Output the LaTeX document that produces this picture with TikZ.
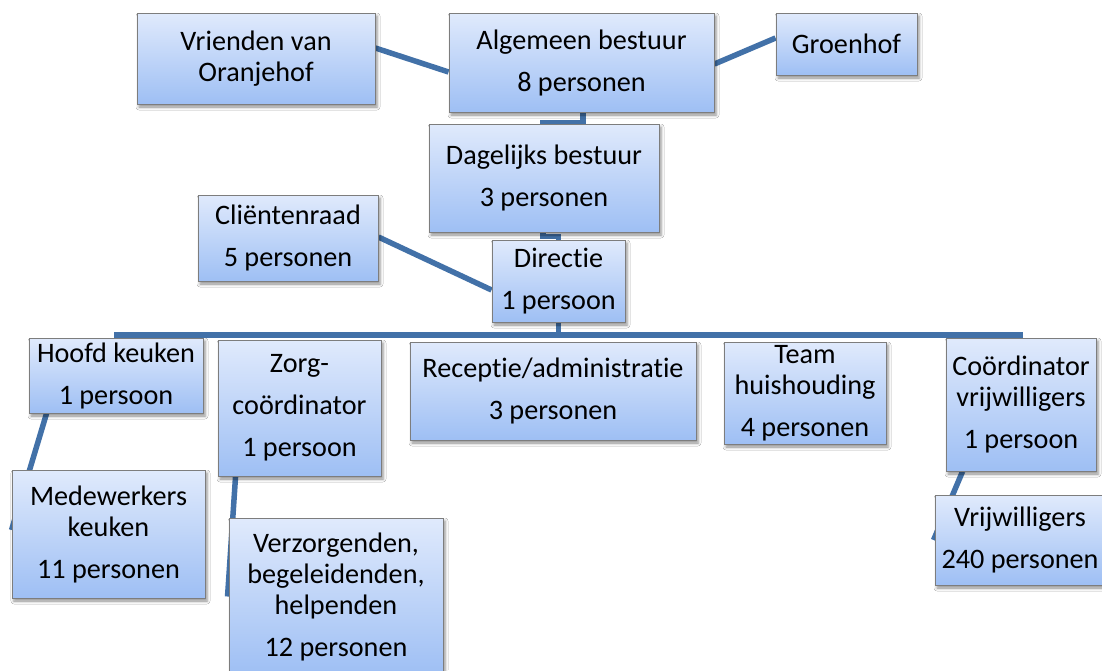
\documentclass[tikz,border=0pt]{standalone}
\usepackage{fontspec}
\setmainfont[Ligatures={NoCommon,NoContextual,NoRare}]{Carlito}
\usetikzlibrary{shadows.blur,backgrounds,calc}
\definecolor{lineblue}{RGB}{66,113,168}
\definecolor{boxtop}{RGB}{224,234,252}
\definecolor{boxbot}{RGB}{158,191,244}
\definecolor{boxborder}{RGB}{125,125,125}
\tikzset{
  orgbox/.style={draw=boxborder, line width=0.9pt, top color=boxtop, bottom color=boxbot,
    inner sep=0pt, align=center, font=\fontsize{28.2}{31}\selectfont,
    blur shadow={shadow xshift=2pt, shadow yshift=-3pt, shadow blur radius=3pt, shadow opacity=45}},
  conn/.style={draw=lineblue, line width=5.5pt},
}
\newcommand{\pgap}{\\[11pt]}
\begin{document}
\begin{tikzpicture}[x=1pt,y=1pt]
\useasboundingbox (0,0) rectangle (1102,-670);
% boxes
\node[orgbox, minimum width=238pt, minimum height=91pt] (vri) at (256,-58.5) {Vrienden van\\Oranjehof};
\node[orgbox, minimum width=265pt, minimum height=99pt] (alg) at (581.5,-62.5) {Algemeen bestuur\pgap 8 personen};
\node[orgbox, minimum width=141pt, minimum height=62pt] (gro) at (846.5,-44) {Groenhof};
\node[orgbox, minimum width=230pt, minimum height=108pt] (dag) at (544,-178) {Dagelijks bestuur\pgap 3 personen};
\node[orgbox, minimum width=180pt, minimum height=86pt] (cli) at (288,-238) {Cliëntenraad\pgap 5 personen};
\node[orgbox, minimum width=133pt, minimum height=82pt] (dir) at (558.5,-281) {Direct\kern0pt ie\pgap 1 persoon};
\node[orgbox, minimum width=174pt, minimum height=75pt] (hoo) at (116,-375.5) {Hoofd keuken\pgap 1 persoon};
\node[orgbox, minimum width=163pt, minimum height=136pt] (zor) at (299.5,-408) {Zorg-\pgap coördinator\pgap 1 persoon};
\node[orgbox, minimum width=286pt, minimum height=98pt] (rec) at (553,-391) {Recept\kern0pt ie/administrat\kern0pt ie\pgap 3 personen};
\node[orgbox, minimum width=162pt, minimum height=102pt] (tea) at (805,-393) {Team\\huishouding\pgap 4 personen};
\node[orgbox, minimum width=150pt, minimum height=133pt] (coo) at (1021,-404.5) {Coördinator\\vrijwilligers\pgap 1 persoon};
\node[orgbox, minimum width=193pt, minimum height=128pt] (med) at (108.5,-534) {Medewerkers\\keuken\pgap 11 personen};
\node[orgbox, minimum width=214pt, minimum height=157pt] (ver) at (336,-596.5) {Verzorgenden,\\begeleidenden,\\helpenden\pgap 12 personen};
\node[orgbox, minimum width=170pt, minimum height=90pt] (vrij) at (1020,-540) {Vrijwilligers\pgap 240 personen};
\coordinate (busL) at (114,-335);
\coordinate (busR) at (1023,-335);
% connectors
\begin{pgfonlayer}{background}
\fill[white] (0,0) rectangle (1102,-670);
\draw[conn] ([yshift=10.5pt]vri.east) -- ([yshift=-9.5pt]alg.west);
\draw[conn] ([yshift=-1.5pt]alg.east) -- ([yshift=6pt]gro.west);
\draw[conn] ([xshift=1.5pt]alg.south) -- ++(0,-10) -| ([xshift=-1pt]dag.north);
\draw[conn] ([xshift=-1pt]dag.south) -- ++(0,-4) -| (dir.north);
\draw[conn] ([yshift=1pt]cli.east) -- ([yshift=-9pt]dir.west);
\draw[conn] (dir.south) -- (dir.south |- busL);
\draw[conn] (busL) -- (busR);
\draw[conn] ([xshift=18pt]hoo.south west) -- ([yshift=4pt]med.west);
\draw[conn] ([xshift=18pt]zor.south west) -- ([xshift=-1pt]ver.west);
\draw[conn] ([xshift=17pt]coo.south west) -- ([xshift=-1pt]vrij.west);
\end{pgfonlayer}
\end{tikzpicture}
\end{document}
